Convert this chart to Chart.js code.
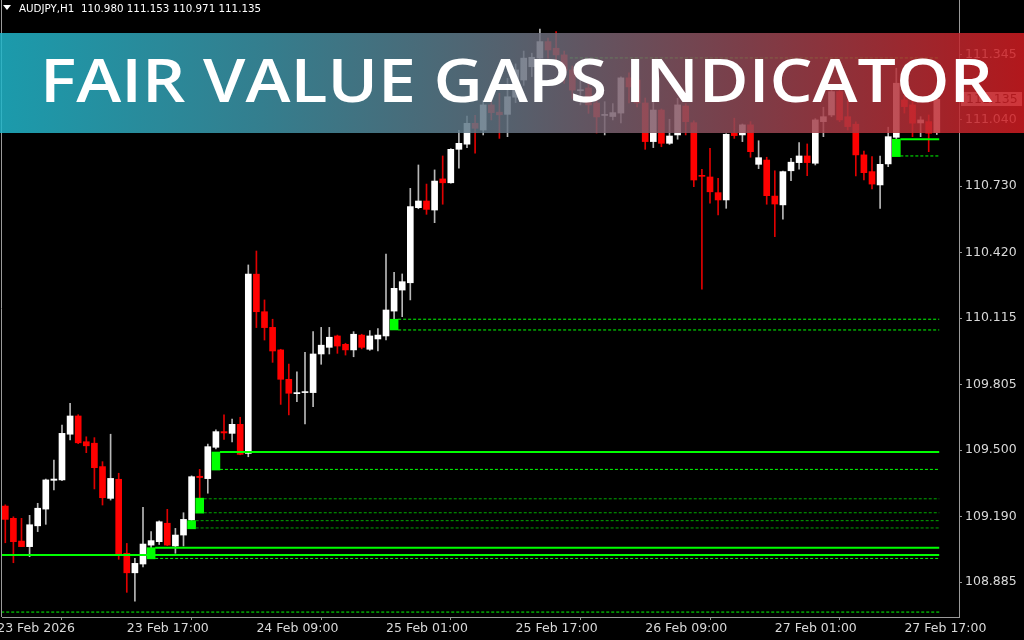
<!DOCTYPE html>
<html>
<head>
<meta charset="utf-8">
<script src="https://cdn.jsdelivr.net/npm/chart.js@4.4.1/dist/chart.umd.min.js"></script>
<style>
html, body { margin: 0; padding: 0; background: #000; }
#wrap { position: relative; width: 1024px; height: 640px; }
</style>
</head>
<body>
<div id="wrap"><canvas id="chart" width="1024" height="640"></canvas></div>
<script>
Chart.defaults.color = '#d8d8d8';
Chart.defaults.font.family = 'DejaVu Sans';
Chart.defaults.font.size = 12.5;

// AUDJPY H1 bars, index 0 = first visible bar (23 Feb)
const opens = [
    109.239, 109.182, 109.076, 109.050, 109.147, 109.225, 109.359, 109.361, 109.574, 109.659,
    109.539, 109.532, 109.423, 109.275, 109.364, 109.019, 108.928, 108.969, 109.057, 109.073,
    109.159, 109.053, 109.104, 109.174, 109.378, 109.367, 109.513, 109.586, 109.578, 109.620,
    109.485, 110.320, 110.145, 110.072, 109.967, 109.830, 109.763, 109.768, 109.768, 109.948,
    109.979, 110.032, 109.993, 109.967, 110.036, 109.970, 110.018, 110.032, 110.148, 110.246,
    110.280, 110.630, 110.661, 110.619, 110.764, 110.746, 110.902, 110.926, 111.023, 110.992,
    111.109, 111.075, 111.065, 111.145, 111.225, 111.287, 111.327, 111.404, 111.373, 111.342,
    111.272, 111.175, 111.188, 111.118, 111.060, 111.055, 111.071, 111.235, 111.225, 111.118,
    110.938, 111.085, 110.930, 110.969, 111.104, 111.026, 110.780, 110.773, 110.700, 110.666,
    110.977, 110.969, 111.016, 110.832, 110.852, 110.684, 110.643, 110.802, 110.840, 110.871,
    110.837, 111.031, 111.062, 111.171, 111.054, 111.019, 110.876, 110.798, 110.736, 110.834,
    110.958, 111.132, 111.109, 111.025, 111.031, 110.980
];
const highs = [
    109.245, 109.189, 109.182, 109.196, 109.252, 109.365, 109.454, 109.617, 109.718, 109.665,
    109.562, 109.558, 109.446, 109.574, 109.392, 109.065, 108.995, 109.233, 109.120, 109.170,
    109.224, 109.135, 109.208, 109.380, 109.410, 109.528, 109.594, 109.664, 109.644, 109.653,
    110.363, 110.428, 110.200, 110.110, 109.970, 109.901, 109.865, 109.956, 110.052, 110.072,
    110.072, 110.036, 109.998, 110.052, 110.040, 110.057, 110.066, 110.414, 110.329, 110.321,
    110.720, 110.829, 110.740, 110.806, 110.871, 110.905, 110.990, 111.057, 111.060, 111.130,
    111.140, 111.163, 111.233, 111.300, 111.360, 111.350, 111.462, 111.420, 111.451, 111.360,
    111.290, 111.225, 111.225, 111.130, 111.124, 111.115, 111.240, 111.258, 111.245, 111.141,
    111.132, 111.090, 111.042, 111.140, 111.115, 111.035, 110.809, 110.907, 110.767, 110.975,
    111.047, 111.020, 111.031, 110.942, 110.865, 110.802, 110.800, 110.860, 110.933, 110.927,
    111.045, 111.098, 111.180, 111.190, 111.132, 111.030, 110.894, 110.868, 110.871, 111.005,
    111.280, 111.155, 111.130, 111.054, 111.062, 111.153
];
const lows = [
    109.068, 108.975, 109.050, 109.003, 109.120, 109.154, 109.314, 109.358, 109.547, 109.530,
    109.488, 109.319, 109.244, 109.267, 108.991, 108.837, 108.796, 108.956, 109.045, 109.060,
    109.055, 109.019, 109.053, 109.170, 109.275, 109.299, 109.505, 109.550, 109.538, 109.478,
    109.469, 110.071, 110.013, 109.909, 109.713, 109.664, 109.726, 109.622, 109.702, 109.900,
    109.948, 109.951, 109.943, 109.935, 109.972, 109.965, 109.962, 110.013, 110.110, 110.122,
    110.200, 110.625, 110.599, 110.560, 110.646, 110.744, 110.814, 110.910, 110.884, 110.969,
    111.039, 110.953, 110.961, 111.120, 111.200, 111.241, 111.300, 111.327, 111.300, 111.210,
    111.140, 111.109, 111.070, 110.978, 110.969, 111.039, 111.025, 111.118, 111.100, 110.902,
    110.910, 110.914, 110.925, 110.949, 110.969, 110.728, 110.250, 110.651, 110.596, 110.627,
    110.953, 110.938, 110.865, 110.812, 110.646, 110.495, 110.576, 110.756, 110.810, 110.779,
    110.829, 110.961, 111.054, 111.031, 110.992, 110.778, 110.759, 110.717, 110.627, 110.821,
    110.950, 111.071, 110.961, 110.961, 110.891, 110.971
];
const closes = [
    109.177, 109.073, 109.050, 109.152, 109.229, 109.361, 109.365, 109.578, 109.659, 109.534,
    109.520, 109.418, 109.278, 109.368, 109.016, 108.928, 108.972, 109.062, 109.078, 109.166,
    109.057, 109.104, 109.177, 109.376, 109.372, 109.516, 109.586, 109.580, 109.620, 109.480,
    110.320, 110.145, 110.071, 109.962, 109.830, 109.765, 109.768, 109.772, 109.948, 109.989,
    110.026, 109.985, 109.967, 110.040, 109.979, 110.032, 110.036, 110.153, 110.254, 110.285,
    110.635, 110.661, 110.622, 110.754, 110.746, 110.902, 110.930, 111.023, 111.000, 111.109,
    111.073, 111.063, 111.147, 111.272, 111.327, 111.331, 111.404, 111.365, 111.342, 111.270,
    111.178, 111.180, 111.109, 111.053, 111.064, 111.073, 111.235, 111.193, 111.118, 110.938,
    111.085, 110.930, 110.964, 111.109, 111.031, 110.759, 110.776, 110.704, 110.666, 110.972,
    110.966, 111.016, 110.891, 110.863, 110.686, 110.647, 110.798, 110.842, 110.871, 110.840,
    111.039, 111.054, 111.171, 111.039, 111.008, 110.876, 110.793, 110.740, 110.832, 110.961,
    111.210, 111.101, 111.024, 111.039, 110.977, 111.135
];

// fair value gap boxes (bar index, lower, upper)
const gapBoxBars = [18, 23, 24, 26, 48, 110];
const gapBoxLow = [108.993, 109.133, 109.206, 109.407, 110.060, 110.868];
const gapBoxHigh = [109.045, 109.171, 109.276, 109.491, 110.110, 110.949];

// gap level lines: price, first bar, style
const levelPrices = [109.491, 109.410, 109.273, 109.208, 109.171, 109.137, 109.045, 109.011, 108.995, 108.745, 110.110, 110.060, 110.949, 110.871, 111.328];
const levelStarts = [26.5, 26.5, 24.5, 24.5, 23.5, 23.5, 18.5, -0.5, 18.5, -0.5, 48.5, 48.5, 110.5, 110.5, 69.7];
const levelKinds = ['solid', 'dash', 'dim', 'dim', 'dim', 'dim', 'solid', 'solid', 'dash', 'dash', 'dash', 'dash', 'solid', 'dash', 'dash'];
const levelEnd = 115.3;

// axis ticks
const priceTicks = [108.885, 109.190, 109.500, 109.805, 110.115, 110.420, 110.730, 111.040, 111.345];
const timeTickBars = [-1, 15, 31, 47, 63, 79, 95, 111];
const timeTickLabels = ['23 Feb 2026', '23 Feb 17:00', '24 Feb 09:00', '25 Feb 01:00', '25 Feb 17:00', '26 Feb 09:00', '27 Feb 01:00', '27 Feb 17:00'];

const symbolLine = 'AUDJPY,H1  110.980 111.153 110.971 111.135';
const lastPrice = 111.135;
const bannerTitle = 'FAIR VALUE GAPS INDICATOR';

const UP = '#ffffff', DOWN = '#ff0000';
const isUp = opens.map((o, i) => closes[i] >= o);

const datasets = [];

levelPrices.forEach((p, k) => {
    const kind = levelKinds[k];
    datasets.push({
        type: 'line',
        data: [{ x: levelStarts[k], y: p }, { x: levelEnd, y: p }],
        borderColor: kind === 'dim' ? '#00a800' : '#00ff00',
        borderWidth: kind === 'solid' ? 2 : 1,
        borderDash: kind === 'solid' ? [] : [3, 2],
        pointRadius: 0,
        order: 0
    });
});

datasets.push({
    type: 'bar',
    data: gapBoxBars.map((b, k) => ({ x: b, y: [gapBoxLow[k], gapBoxHigh[k]] })),
    backgroundColor: '#00ff00',
    barThickness: 8,
    grouped: false,
    order: 0
});

datasets.push({
    type: 'bar',
    data: opens.map((o, i) => ({ x: i, y: [o, closes[i]] })),
    backgroundColor: isUp.map(u => u ? UP : DOWN),
    barThickness: 6,
    minBarLength: 1,
    grouped: false,
    order: 1
});

datasets.push({
    type: 'bar',
    data: lows.map((l, i) => ({ x: i, y: [l, highs[i]] })),
    backgroundColor: isUp.map(u => u ? '#b8b8b8' : '#e00000'),
    barThickness: 1,
    grouped: false,
    order: 2
});

// drop the half-label paddings chart.js reserves at the axis ends
function noEndPadding(s) {
    s.paddingTop = 0;
    s.paddingBottom = 0;
    s.paddingLeft = 0;
    s.paddingRight = 0;
}

const overlay = {
    id: 'overlay',
    afterDraw(chart) {
        const ctx = chart.ctx;
        const yScale = chart.scales.y;
        ctx.save();

        // left frame line
        ctx.strokeStyle = '#9a9a9a';
        ctx.lineWidth = 1;
        ctx.beginPath();
        ctx.moveTo(1.5, 0);
        ctx.lineTo(1.5, chart.chartArea.bottom);
        ctx.stroke();

        // symbol header
        ctx.fillStyle = '#ffffff';
        ctx.beginPath();
        ctx.moveTo(3, 5);
        ctx.lineTo(11, 5);
        ctx.lineTo(7, 10);
        ctx.closePath();
        ctx.fill();
        ctx.font = '10.3px "DejaVu Sans"';
        ctx.textBaseline = 'middle';
        ctx.textAlign = 'left';
        ctx.fillText(symbolLine, 19, 9);

        // current price tag
        const py = Math.round(yScale.getPixelForValue(lastPrice));
        ctx.fillStyle = '#c8c8c8';
        ctx.fillRect(961, py - 7, 61, 14);
        ctx.fillStyle = '#000000';
        ctx.font = '12.5px "DejaVu Sans"';
        ctx.fillText(lastPrice.toFixed(3), 966, py + 0.5);

        // title banner
        const g = ctx.createLinearGradient(0, 0, 1024, 0);
        g.addColorStop(0, '#20b6ca');
        g.addColorStop(0.25, '#3c95a8');
        g.addColorStop(0.5, '#657180');
        g.addColorStop(0.72, '#904a57');
        g.addColorStop(1, '#d11c21');
        ctx.globalAlpha = 0.85;
        ctx.fillStyle = g;
        ctx.fillRect(0, 33, 1024, 100);
        ctx.globalAlpha = 1;

        ctx.font = '600 60px "Open Sans"';
        ctx.textBaseline = 'alphabetic';
        const w = ctx.measureText(bannerTitle).width;
        ctx.translate(40, 101.5);
        ctx.scale(953 / w, 1);
        ctx.fillStyle = '#ffffff';
        ctx.fillText(bannerTitle, 0, 0);

        ctx.restore();
    }
};

new Chart(document.getElementById('chart'), {
    type: 'bar',
    data: { datasets },
    options: {
        responsive: false,
        animation: false,
        devicePixelRatio: 1,
        layout: { padding: { left: 2, top: 0, right: 0, bottom: 0 } },
        plugins: { legend: { display: false }, tooltip: { enabled: false } },
        scales: {
            x: {
                type: 'linear',
                min: -0.407,
                max: 117.74,
                offset: false,
                afterBuildTicks: s => { s.ticks = timeTickBars.map(v => ({ value: v })); },
                afterFit: s => { s.height = 23; noEndPadding(s); },
                grid: { drawOnChartArea: false, tickLength: 3, color: '#9a9a9a' },
                border: { color: '#9a9a9a' },
                ticks: {
                    autoSkip: false,
                    maxRotation: 0,
                    align: 'start',
                    padding: 1,
                    color: '#d8d8d8',
                    callback: (v, i) => timeTickLabels[i]
                }
            },
            y: {
                position: 'right',
                min: 108.722,
                max: 111.598,
                afterBuildTicks: s => { s.ticks = priceTicks.map(v => ({ value: v })); },
                afterFit: s => { s.width = 65; noEndPadding(s); },
                grid: { drawOnChartArea: false, tickLength: 3, color: '#9a9a9a' },
                border: { color: '#9a9a9a' },
                ticks: {
                    padding: 3,
                    color: '#d8d8d8',
                    callback: v => Number(v).toFixed(3)
                }
            }
        }
    },
    plugins: [overlay]
});
</script>
</body>
</html>
